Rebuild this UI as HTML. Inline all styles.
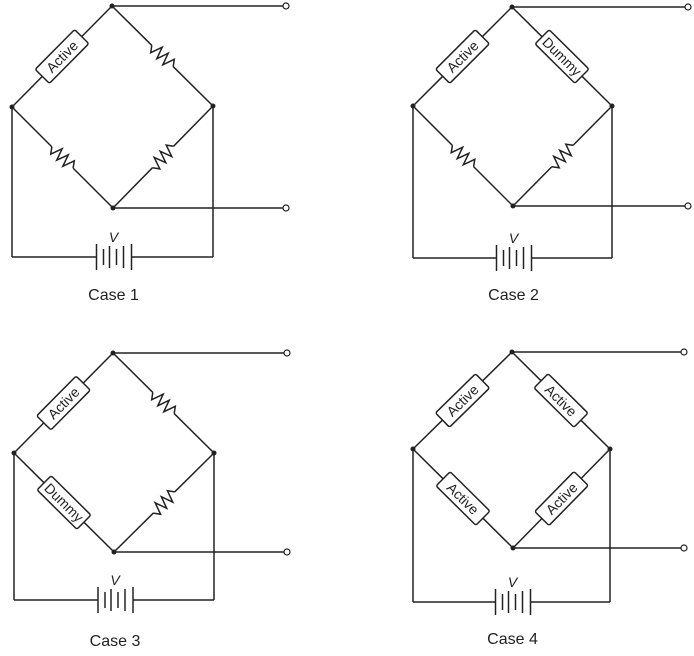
<!DOCTYPE html>
<html><head><meta charset="utf-8"><style>
html,body{margin:0;padding:0;background:#fff;}
svg{display:block;}
text{font-family:"Liberation Sans",sans-serif;fill:#222;}
</style></head><body>
<svg id="s" width="694" height="656" viewBox="0 0 694 656"></svg>
<script>
const NS="http://www.w3.org/2000/svg";
const svg=document.getElementById('s');
const caseLabels=["Case 1","Case  2","Case 3","Case 4"];
const caseNodes=[
 {t:[112,6],l:[12,107],r:[213,106],b:[113,208],wy:257,tx:286,ly:300},
 {t:[512,7],l:[413,106],r:[612,106],b:[513,206],wy:258,tx:688,ly:300},
 {t:[113,353],l:[14,453],r:[214,453],b:[114,552],wy:600,tx:287,ly:646},
 {t:[512,352],l:[413,449],r:[610,449],b:[513,548],wy:602,tx:684,ly:644}
];
const caseArms=[
 ["Active","R","R","R"],
 ["Active","Dummy","R","R"],
 ["Active","R","Dummy","R"],
 ["Active","Active","Active","Active"]
];
function el(tag,attrs,parent){const e=document.createElementNS(NS,tag);for(const k in attrs)e.setAttribute(k,attrs[k]);(parent||svg).appendChild(e);return e;}
const st={stroke:"#222","stroke-width":1.5,fill:"none"};
function line(g,x1,y1,x2,y2){return el('line',Object.assign({x1,y1,x2,y2},st),g);}
function arm(g,a,b,type){
 const dx=b[0]-a[0],dy=b[1]-a[1],L=Math.hypot(dx,dy),ux=dx/L,uy=dy/L,px=-uy,py=ux;
 const mx=(a[0]+b[0])/2,my=(a[1]+b[1])/2;
 if(type==="R"){
  const h=15;
  line(g,a[0],a[1],mx-ux*h,my-uy*h);line(g,mx+ux*h,my+uy*h,b[0],b[1]);
  let pts=[];const n=7;
  for(let i=0;i<=n;i++){const t=-h+2*h*i/n;const o=(i===0||i===n)?0:(i%2?6:-6);pts.push((mx+ux*t+px*o).toFixed(1)+","+(my+uy*t+py*o).toFixed(1));}
  const p=el('polyline',Object.assign({points:pts.join(" ")},st),g);
  
  
 } else {
  const h=28;
  line(g,a[0],a[1],mx-ux*h,my-uy*h);line(g,mx+ux*h,my+uy*h,b[0],b[1]);
  let ang=Math.atan2(dy,dx)*180/Math.PI; if(ang>90)ang-=180; if(ang<-90)ang+=180;
  const gg=el('g',{transform:`translate(${mx},${my}) rotate(${ang})`},g);
  
  
  el('rect',Object.assign({x:-h,y:-10,width:2*h,height:20,rx:2},st),gg);
  const t=el('text',{x:0,y:5,"text-anchor":"middle","font-size":14},gg);t.textContent=type;
 }
}
caseNodes.forEach((c,i)=>{
 const g=el('g',{});
 
 
 const A=caseArms[i];
 arm(g,c.l,c.t,A[0]);arm(g,c.t,c.r,A[1]);arm(g,c.l,c.b,A[2]);arm(g,c.b,c.r,A[3]);
 line(g,c.t[0],c.t[1],c.tx-3,c.t[1]);line(g,c.b[0],c.b[1],c.tx-3,c.b[1]);
 el('circle',{cx:c.tx,cy:c.t[1],r:3,fill:"#fff",stroke:"#222","stroke-width":1.2},g);
 el('circle',{cx:c.tx,cy:c.b[1],r:3,fill:"#fff",stroke:"#222","stroke-width":1.2},g);
 const cx=(c.l[0]+c.r[0])/2+1;
 line(g,c.l[0],c.l[1],c.l[0],c.wy);line(g,c.r[0],c.r[1],c.r[0],c.wy);
 line(g,c.l[0],c.wy,cx-17,c.wy);line(g,cx+18,c.wy,c.r[0],c.wy);
 [[-17,13],[-10,8],[-4,11],[3,8],[10,11],[18,13]].forEach(p=>line(g,cx+p[0],c.wy-p[1],cx+p[0],c.wy+p[1]));
 const v=el('text',{x:cx,y:c.wy-15,"text-anchor":"middle","font-size":14,"font-style":"italic"},g);v.textContent="V";
 [c.t,c.l,c.r,c.b].forEach(n=>el('circle',{cx:n[0],cy:n[1],r:2.5,fill:"#222"},g));
 const lb=el('text',{x:cx,y:c.ly,"text-anchor":"middle","font-size":16,"xml:space":"preserve"},g);
 
 
 lb.textContent=caseLabels[i];
});
</script>
</body></html>
